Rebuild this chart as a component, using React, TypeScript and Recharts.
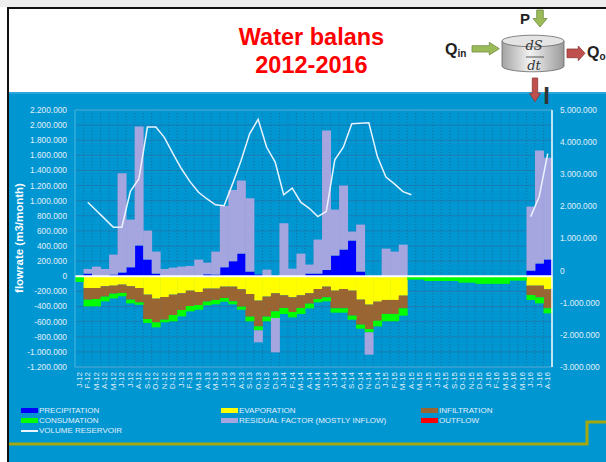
import React from 'react';
import { ComposedChart, Bar, Line, XAxis, YAxis, CartesianGrid, ReferenceLine } from 'recharts';

const months = [
  'J-12', 'F-12', 'M-12', 'A-12', 'M-12', 'J-12', 'J-12', 'A-12', 'S-12', 'O-12', 'N-12', 'D-12',
  'J-13', 'F-13', 'M-13', 'A-13', 'M-13', 'J-13', 'J-13', 'A-13', 'S-13', 'O-13', 'N-13', 'D-13',
  'J-14', 'F-14', 'M-14', 'A-14', 'M-14', 'J-14', 'J-14', 'A-14', 'S-14', 'O-14', 'N-14', 'D-14',
  'J-15', 'F-15', 'M-15', 'A-15', 'M-15', 'J-15', 'J-15', 'A-15', 'S-15', 'O-15', 'N-15', 'D-15',
  'J-16', 'F-16', 'M-16', 'A-16', 'M-16', 'J-16', 'J-16', 'A-16',
];

// m3/month
const precipitation = [
  0, 35000, 0, 0, 22000, 49000, 119000, 406000, 221000, 35000, 0, 0,
  0, 0, 0, 26000, 22000, 119000, 199000, 300000, 62000, 22000, 0, 0,
  0, 0, 0, 35000, 35000, 84000, 274000, 353000, 472000, 62000, 0, 0,
  0, 0, 0, 0, 0, 0, 0, 0, 0, 0, 0, 0,
  0, 0, 0, 0, 0, 75000, 168000, 221000,
];
const evaporation = [
  0, -155000, -155000, -132000, -124000, -110000, -132000, -155000, -243000, -296000, -274000, -243000,
  -225000, -190000, -208000, -163000, -163000, -137000, -137000, -172000, -234000, -322000, -269000, -225000,
  -252000, -278000, -252000, -225000, -168000, -137000, -190000, -168000, -190000, -309000, -375000, -336000,
  -313000, -313000, -256000, 0, 0, 0, 0, 0, 0, 0, 0, 0,
  0, 0, 0, 0, 0, -124000, -124000, -172000,
];
const infiltration = [
  0, -155000, -146000, -137000, -106000, -110000, -177000, -190000, -322000, -313000, -300000, -269000,
  -221000, -203000, -172000, -172000, -150000, -150000, -194000, -230000, -300000, -340000, -265000, -238000,
  -168000, -194000, -168000, -137000, -132000, -141000, -234000, -256000, -331000, -331000, -322000, -252000,
  -185000, -185000, -168000, 0, 0, 0, 0, 0, 0, 0, 0, 0,
  0, 0, 0, 0, 0, -124000, -155000, -252000,
];
const consumation = [
  -75000, -88000, -97000, -62000, -62000, -44000, -49000, -31000, -53000, -66000, -35000, -84000,
  -84000, -71000, -62000, -49000, -57000, -49000, -40000, -40000, -62000, -53000, -62000, -88000,
  -79000, -71000, -79000, -62000, -44000, -53000, -57000, -57000, -53000, -53000, -44000, -75000,
  -97000, -97000, -97000, -44000, -44000, -62000, -62000, -62000, -62000, -84000, -84000, -100000,
  -100000, -100000, -100000, -57000, -57000, -66000, -79000, -66000,
];
const residual = [
  0, 62000, 128000, 97000, 265000, 1315000, 631000, 1576000, 384000, 292000, 97000, 115000,
  128000, 137000, 221000, 155000, 305000, 813000, 944000, 967000, 971000, -159000, 88000, -455000,
  702000, 101000, 300000, 120000, 451000, 1845000, 609000, 848000, 120000, 622000, -296000, 0,
  366000, 327000, 419000, 0, 0, 0, 0, 0, 0, 0, 0, 0,
  0, 0, 0, 0, 0, 848000, 1496000, 1346000,
];
const outflow = [
  0, 0, 0, 0, 0, 0, 0, 0, 0, 0, 0, 0,
  0, 0, 0, 0, 0, 0, 0, 0, 0, 0, 0, 0,
  0, 0, 0, 0, 0, 0, 0, 0, 0, 0, 0, 0,
  0, 0, 0, 0, 0, 0, 0, 0, 0, 0, 0, 0,
  0, 0, 0, 0, 0, 0, 0, 0,
];
// m3, right axis
const volume = [
  null, 2130000, 1870000, 1610000, 1350000, 1350000, 2470000, 2860000, 4470000, 4470000, 4140000, 3640000,
  3170000, 2770000, 2440000, 2230000, 2050000, 2020000, 2700000, 3430000, 4260000, 4710000, 3840000, 3380000,
  2360000, 2570000, 2130000, 1940000, 1680000, 1840000, 3450000, 3840000, 4570000, 4590000, 4600000, 3550000,
  2910000, 2700000, 2460000, 2360000, null, null, null, null, null, null, null, null,
  null, null, null, null, null, 1680000, 2310000, 3640000,
];

const leftTicks = [
  -1200000, -1000000, -800000, -600000, -400000, -200000, 0, 200000, 400000, 600000,
  800000, 1000000, 1200000, 1400000, 1600000, 1800000, 2000000, 2200000,
];
const rightTicks = [-3000000, -2000000, -1000000, 0, 1000000, 2000000, 3000000, 4000000, 5000000];

const data = months.map((m, i) => ({
  m,
  precipitation: precipitation[i],
  evaporation: evaporation[i],
  infiltration: infiltration[i],
  consumation: consumation[i],
  residual: residual[i],
  outflow: outflow[i],
  volume: volume[i],
}));

const FONT = '"Liberation Sans", Arial, sans-serif';
const BLUE = '#0096d2';
const LIGHT_TEXT = '#e2effa';

const fmt = (v: number) => {
  const s = Math.abs(v).toString().replace(/\B(?=(\d{3})+(?!\d))/g, '.');
  return v < 0 ? '-' + s : s;
};

const MonthTick = (props: any) => {
  const { x, y, payload } = props;
  return (
    <text
      x={x}
      y={y}
      transform={`rotate(-90 ${x} ${y})`}
      textAnchor="end"
      dominantBaseline="central"
      fill={LIGHT_TEXT}
      fontSize={8}
      fontFamily={FONT}
    >
      {payload.value}
    </text>
  );
};

const legendItems = [
  { label: 'PRECIPITATION', color: '#0000ff', x: 21, y: 410.7, line: false },
  { label: 'EVAPORATION', color: '#ffff00', x: 221, y: 410.7, line: false },
  { label: 'INFILTRATION', color: '#996633', x: 421, y: 410.7, line: false },
  { label: 'CONSUMATION', color: '#00ff00', x: 21, y: 420.7, line: false },
  { label: 'RESIDUAL FACTOR (MOSTLY INFLOW)', color: '#a5a5e0', x: 221, y: 420.7, line: false },
  { label: 'OUTFLOW', color: '#ff0000', x: 421, y: 420.7, line: false },
  { label: 'VOLUME RESERVOIR', color: '#e8f4ff', x: 21, y: 430.7, line: true },
];

export default function App() {
  return (
    <div style={{ position: 'absolute', left: 0, top: 0, width: 606, height: 462, overflow: 'hidden', background: '#fff', fontFamily: FONT }}>
      {/* slide frame */}
      <div style={{ position: 'absolute', left: 0, top: 0, width: 606, height: 7, background: '#eeeeee' }} />
      <div style={{ position: 'absolute', left: 7, top: 7, width: 599, height: 2, background: '#111' }} />
      <div style={{ position: 'absolute', left: 7, top: 7, width: 2, height: 455, background: '#111' }} />
      <div style={{ position: 'absolute', left: 9, top: 92, width: 597, height: 370, background: BLUE, borderTop: '2px solid #2aa6dd', boxSizing: 'border-box' }} />

      {/* title */}
      <div style={{ position: 'absolute', left: 161.5, top: 22.8, width: 300, textAlign: 'center', color: '#ff0000', fontWeight: 'bold', fontSize: 23.5, lineHeight: '28px' }}>
        Water balans<br />2012-2016
      </div>

      {/* chart */}
      <div style={{ position: 'absolute', left: 0, top: 0 }}>
        <ComposedChart
          width={606}
          height={462}
          data={data}
          margin={{ top: 110, right: 0, bottom: 0, left: 0 }}
          stackOffset="sign"
          barCategoryGap={0}
          barGap={0}
        >
          <CartesianGrid yAxisId="left" vertical={false} stroke="#1a7db3" strokeWidth={1} />
          <CartesianGrid
            yAxisId="left"
            horizontal={false}
            stroke="#1a6f9f"
            strokeDasharray="1 2"
            verticalCoordinatesGenerator={({ offset }: any) =>
              months.map((_, i) => offset.left + ((i + 1) * offset.width) / months.length)
            }
          />
          <XAxis
            dataKey="m"
            height={95}
            interval={0}
            tickLine={false}
            axisLine={false}
            tickSize={5}
            tickMargin={0}
            tick={<MonthTick />}
          />
          <YAxis
            yAxisId="left"
            width={75}
            domain={[-1200000, 2200000]}
            ticks={leftTicks}
            interval={0}
            tickFormatter={fmt}
            tickLine={false}
            axisLine={{ stroke: '#4fb6e3' }}
            tick={{ fill: LIGHT_TEXT, fontSize: 8.3, fontFamily: FONT }}
          />
          <YAxis
            yAxisId="right"
            orientation="right"
            width={54}
            domain={[-3000000, 5000000]}
            ticks={rightTicks}
            interval={0}
            tickFormatter={fmt}
            tickLine={false}
            axisLine={{ stroke: '#ffffff', strokeWidth: 1.5 }}
            tick={{ fill: LIGHT_TEXT, fontSize: 8.3, fontFamily: FONT }}
          />
          <ReferenceLine yAxisId="left" y={2200000} stroke="#4fb6e3" />
          <ReferenceLine yAxisId="left" y={-1200000} stroke="#4fb6e3" />
          <Bar yAxisId="left" dataKey="precipitation" stackId="a" fill="#0000ff" isAnimationActive={false} />
          <Bar yAxisId="left" dataKey="evaporation" stackId="a" fill="#ffff00" isAnimationActive={false} />
          <Bar yAxisId="left" dataKey="infiltration" stackId="a" fill="#996633" isAnimationActive={false} />
          <Bar yAxisId="left" dataKey="consumation" stackId="a" fill="#00ff00" isAnimationActive={false} />
          <Bar yAxisId="left" dataKey="residual" stackId="a" fill="#a5a5e0" isAnimationActive={false} />
          <Bar yAxisId="left" dataKey="outflow" stackId="a" fill="#ff0000" isAnimationActive={false} />
          <ReferenceLine yAxisId="left" y={0} stroke="#ffffff" strokeWidth={2} />
          <Line
            yAxisId="right"
            dataKey="volume"
            type="linear"
            stroke="#e8f4ff"
            strokeWidth={1.5}
            dot={false}
            connectNulls={false}
            isAnimationActive={false}
          />
        </ComposedChart>
      </div>

      {/* y axis title */}
      <div style={{ position: 'absolute', left: 19, top: 238, transform: 'translate(-50%, -50%) rotate(-90deg)', whiteSpace: 'nowrap', color: '#ffffff', fontWeight: 'bold', fontSize: 11.5 }}>
        flowrate (m3/month)
      </div>

      {/* legend */}
      {legendItems.map((it) => (
        <div key={it.label} style={{ position: 'absolute', left: it.x, top: it.y - 5, height: 10, display: 'flex', alignItems: 'center', whiteSpace: 'nowrap' }}>
          <div style={{ width: 17, height: it.line ? 2 : 5, background: it.color, marginRight: 1 }} />
          <span style={{ color: LIGHT_TEXT, fontSize: 8, lineHeight: '10px' }}>{it.label}</span>
        </div>
      ))}

      {/* bottom decoration */}
      <svg width={606} height={462} style={{ position: 'absolute', left: 0, top: 0, pointerEvents: 'none' }}>
        <polyline points="9,444 587,444 587,422 606,422" fill="none" stroke="#a3a90c" strokeWidth={3} />
      </svg>

      {/* water balance diagram */}
      <svg width={606} height={110} style={{ position: 'absolute', left: 0, top: 0, pointerEvents: 'none' }}>
        <defs>
          <linearGradient id="cyl" x1="0" x2="1" y1="0" y2="0">
            <stop offset="0" stopColor="#a3a3a3" />
            <stop offset="0.45" stopColor="#f2f2f2" />
            <stop offset="1" stopColor="#9a9a9a" />
          </linearGradient>
        </defs>
        <polygon points="536.7,10 543.3,10 543.3,18.5 547,18.5 540,27 533,18.5 536.7,18.5" fill="#9bbb59" stroke="#71893f" strokeWidth={0.8} />
        <text x={525} y={24} fontSize={15} fontWeight="bold" textAnchor="middle" fontFamily={FONT} fill="#222">P</text>
        <text x={445} y={55} fontSize={16} fontWeight="bold" fontFamily={FONT} fill="#222">
          Q<tspan fontSize={10} dy={2}>in</tspan>
        </text>
        <polygon points="472,45.7 489.3,45.7 489.3,42.3 499.3,48.7 489.3,55 489.3,52 472,52" fill="#9bbb59" stroke="#71893f" strokeWidth={0.8} />
        <path d="M502,41 L502,66 A31,5.8 0 0 0 564,66 L564,41" fill="url(#cyl)" stroke="#666" strokeWidth={0.8} />
        <ellipse cx={533} cy={41} rx={31} ry={5.8} fill="#e4e4e4" stroke="#666" strokeWidth={0.8} />
        <text x={534} y={50} fontSize={13} fontStyle="italic" textAnchor="middle" fontFamily='"DejaVu Serif", "Liberation Serif", serif' fill="#333">dS</text>
        <line x1={526} x2={544} y1={57} y2={57} stroke="#333" strokeWidth={0.8} />
        <text x={534} y={70} fontSize={13} fontStyle="italic" textAnchor="middle" fontFamily='"DejaVu Serif", "Liberation Serif", serif' fill="#333">dt</text>
        <polygon points="567,49 578.3,49 578.3,46 585,53.3 578.3,60.7 578.3,57.7 567,57.7" fill="#c0504d" stroke="#8c3836" strokeWidth={0.8} />
        <text x={587} y={58.3} fontSize={16} fontWeight="bold" fontFamily={FONT} fill="#222">
          Q<tspan fontSize={10} dy={2}>o</tspan>
        </text>
        <polygon points="532.3,78 537.7,78 537.7,93.3 540.5,93.3 535,101.7 529.5,93.3 532.3,93.3" fill="#c0504d" stroke="#8c3836" strokeWidth={0.8} />
        <text x={546.5} y={104} fontSize={24} fontWeight="bold" textAnchor="middle" fontFamily={FONT} fill="#333">I</text>
      </svg>
    </div>
  );
}
